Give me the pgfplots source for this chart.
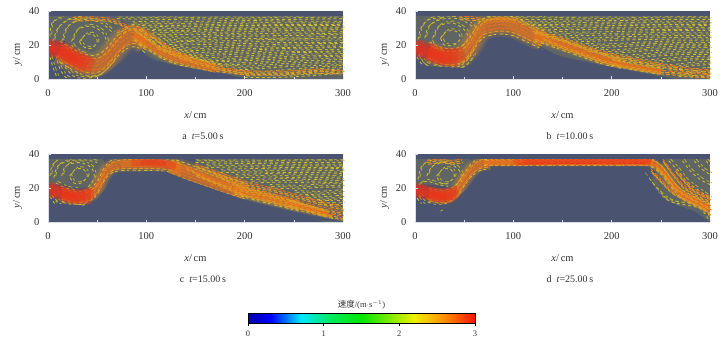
\documentclass[border=0pt]{standalone}
\usepackage{pgfplots}
\pgfplotsset{compat=1.18}
\usepackage{fontspec}
\setmainfont{Liberation Serif}
\newfontfamily\cjk{Noto Sans CJK SC}
\definecolor{bgc}{RGB}{74,84,112}
\definecolor{yf}{RGB}{208,190,44}
\definecolor{yg}{RGB}{186,176,52}
\definecolor{og}{RGB}{226,150,34}
\definecolor{oh}{RGB}{230,112,30}
\definecolor{rd}{RGB}{236,48,26}
\definecolor{txt}{RGB}{50,50,50}
\pgfplotsset{
  fa/.style={color=yf,line width=0.85pt,dash pattern=on 3pt off 2.7pt,no marks},
  fb/.style={color=yg,line width=0.85pt,dash pattern=on 4pt off 3.3pt on 2.5pt off 2.2pt,no marks},
  fc/.style={color=yf,line width=0.85pt,dash pattern=on 2.5pt off 3.6pt on 3.5pt off 1.9pt,no marks},
  oa/.style={color=og,line width=1pt,dash pattern=on 4pt off 1.8pt,no marks},
  ob/.style={color=oh,line width=1pt,dash pattern=on 3pt off 2.1pt on 5pt off 1.3pt,no marks},
  core/.style={color=rd,line width=#1,opacity=0.4,smooth,no marks},
  bed/.style={fill=bgc,draw=none,no marks,forget plot},
  tint/.style={fill=yf,draw=none,opacity=0.16,no marks,forget plot,smooth},
  panel/.style={
    scale only axis,width=295pt,height=68pt,anchor=south west,
    xmin=0,xmax=300,ymin=0,ymax=40,
    xtick={0,100,200,300},minor xtick={50,150,250},ytick={0,20,40},
    axis x line=bottom,axis y line=left,
    axis line style={-,color=white!80!bgc,line width=0.7pt},
    tick style={color=white!80!bgc,line width=0.5pt},
    major tick length=2.5pt,minor tick length=2pt,
    tick align=inside,axis on top,
    axis background/.style={fill=bgc},
    clip mode=individual,
    /pgf/number format/assume math mode=true,
    ticklabel style={font=\fontsize{10.5}{12}\selectfont,text=txt},
    xticklabel style={yshift=-7pt},
    yticklabel style={xshift=-5pt},
    xlabel={\textit{x}/\,cm},ylabel={\textit{y}/\,cm},
    label style={font=\fontsize{10.5}{12}\selectfont,text=txt},
    xlabel style={yshift=-8pt},
    ylabel style={xshift=-9pt},
  }
}
\newcommand\F[1]{\addplot[fa] coordinates {#1};\addplot[fb,yshift=1.7pt,xshift=1.5pt] coordinates {#1};\addplot[fc,yshift=3.4pt,xshift=.7pt] coordinates {#1};}
\newcommand\Y[1]{\addplot[fa,smooth] coordinates {#1};\addplot[fb,smooth,yshift=1.8pt,xshift=1.8pt] coordinates {#1};}
\newcommand\Ob[1]{\addplot[oa] coordinates {#1};\addplot[ob,yshift=1.8pt] coordinates {#1};\addplot[oa,yshift=-1.8pt,xshift=1pt] coordinates {#1};}
\newcommand\Jet[2]{%
\addplot[color=og,line width=#1*2.7pt,opacity=0.14,smooth,no marks] coordinates {#2};%
\addplot[color=og,line width=#1*2.2pt,opacity=0.2,smooth,no marks] coordinates {#2};%
\addplot[color=oh,line width=#1*1.7pt,opacity=0.3,smooth,no marks] coordinates {#2};%
\addplot[color=oh,line width=#1*1.2pt,opacity=0.4,smooth,no marks] coordinates {#2};%
\addplot[fa,smooth,yshift=#1*1.05pt] coordinates {#2};%
\addplot[fc,smooth,yshift=-#1*1.05pt] coordinates {#2};%
\addplot[oa,smooth,yshift=#1*.72pt,xshift=1pt] coordinates {#2};%
\addplot[oa,smooth,yshift=-#1*.72pt] coordinates {#2};%
\addplot[ob,smooth,yshift=#1*.38pt] coordinates {#2};%
\addplot[ob,smooth,yshift=-#1*.38pt,xshift=1.5pt] coordinates {#2};%
\addplot[ob,smooth] coordinates {#2};}
\newcommand\Cap[1]{\node[font=\fontsize{10}{12}\selectfont,text=txt] at (axis description cs:0.525,-0.84) {#1};}
\newcommand\Top{\addplot[bed] coordinates {(0,37.2)(300,37.2)(300,40)(0,40)} --cycle;}
\begin{document}
\begin{tikzpicture}
\path[use as bounding box] (0,0) rectangle (722pt,340pt);
% ---- a
\begin{axis}[panel,at={(48pt,261pt)}]
\Cap{a\enspace\textit{t}=5.00\,s}
\addplot[tint] coordinates {(70,37)(300,37)(300,0)(210,0)(180,3)(130,8)(100,14)(85,30)} --cycle;
\addplot[tint] coordinates {(0,37)(70,37)(70,24)(45,12)(20,22)(0,22)} --cycle;
\F{(70,35.5)(120,35)(180,35.5)(240,35)(300,35.5)}
\F{(85,32)(130,31.5)(190,32.5)(250,32)(300,32)}
\F{(95,29.5)(130,28.5)(180,29.5)(240,29.5)(300,29.5)}
\F{(105,26.5)(150,26)(200,27)(250,26.5)(300,27)}
\F{(105,24.5)(140,22.5)(190,24)(250,23.5)(300,24.5)}
\F{(100,22.5)(130,20)(180,20.5)(240,21.5)(300,21.5)}
\F{(105,20.5)(140,16.5)(180,17.5)(240,18.5)(300,19)}
\F{(115,17.5)(150,13.5)(190,14.5)(240,16)(300,16.5)}
\F{(125,14.5)(160,10.5)(200,11.5)(250,13.5)(300,14)}
\F{(135,11.5)(170,8)(210,9)(250,10.5)(300,11.5)}
\F{(160,7)(200,5.5)(250,7.5)(300,8.5)}
\F{(190,3)(220,2.5)(260,4.5)(300,6)}
\F{(200,0.8)(240,1)(270,2)(300,3.5)}
\Ob{(170,5.5)(200,3.5)(240,3.5)(270,4.5)(300,4)}
% vortex
\Y{(32,22)(38,26)(46,26)(50,22)(44,18)(36,19)(32,22)}
\Y{(24,22)(30,29)(44,31)(56,27)(60,21)}
\Y{(14,22)(20,31)(36,35)(54,33)(66,27)}
\Y{(5,22)(10,30)(22,35)(40,36)}
\Y{(2,25)(4,33)(14,36)}
\Y{(24,20)(30,16)(40,14)}
% lower
\Y{(8,14)(12,6)(18,1)(22,0)}
\Y{(2,13)(5,7)(9,1)}
\Y{(14,10)(20,5)(28,1)(40,0.5)(52,2)(60,6)(68,11)}
% upper band
\Ob{(25,35)(45,35.5)(60,35)(72,33)(82,30)}
% jet
\Jet{10}{(12,16)(30,10)(40,8)(50,8)(60,12)(70,19)(80,24)(90,25)(100,21)}
\Jet{5}{(88,26)(100,21)(115,15.5)(130,12)(150,9)(170,6)}
\Ob{(70,27)(82,30)(95,29)(108,24)(125,17)(145,12)}
\Ob{(110,19)(130,14)(150,10)(180,5.5)(205,3)}
\addplot[core=18pt] coordinates {(0,18.5)(12,17)(24,13)(40,8)};
\addplot[core=14pt] coordinates {(0,18.5)(12,17)(24,13)(46,8)};
\addplot[core=10pt] coordinates {(0,19)(12,17)(24,13)(36,10)};
\addplot[core=6pt] coordinates {(0,19)(12,16.5)(24,12.5)(30,11)};
\addplot[bed] coordinates {(48,0)(60,3)(70,8)(80,12)(90,14)(100,12)(107,11)(130,8)(150,6)(180,2.5)(200,0.5)(210,0)} --cycle;
\Top
\end{axis}
% ---- b
\begin{axis}[panel,at={(415pt,261pt)}]
\Cap{b\enspace\textit{t}=10.00\,s}
\addplot[tint] coordinates {(72,37)(300,37)(300,0)(265,0)(200,7)(150,13)(110,25)} --cycle;
\addplot[tint] coordinates {(0,37)(70,37)(65,22)(45,16)(20,20)(0,20)} --cycle;
\F{(72,35)(130,35)(190,35.5)(250,35)(300,35)}
\F{(108,32)(150,32)(200,32.5)(250,32)(300,32)}
\F{(118,29.5)(160,29)(210,29.5)(260,29)(300,29.5)}
\F{(128,26.5)(165,25.5)(210,26)(260,26.5)(300,26.5)}
\F{(140,23)(175,22)(215,23)(260,23.5)(300,23.5)}
\F{(155,19.5)(190,18.5)(225,19.5)(265,20.5)(300,20.5)}
\F{(170,16.5)(200,15)(235,16.5)(270,17.5)(300,17.5)}
\F{(190,13)(215,12)(245,13.5)(275,14.5)(300,14.5)}
\F{(210,10)(240,9.5)(270,11)(300,11.5)}
\F{(235,7)(262,6.5)(285,8)(300,8.5)}
\F{(250,4)(275,3.5)(300,5)}
\F{(268,1.5)(285,1)(300,2)}
% vortex
\Y{(26,24)(32,28)(42,28)(46,24)(40,20)(30,20)(26,24)}
\Y{(18,24)(24,31)(38,33)(50,29)(54,24)(46,18)}
\Y{(10,24)(14,31)(26,35)(44,35.5)(58,31)(62,27)}
\Y{(3,23)(6,30)(14,35)(28,36)}
\Y{(16,22)(20,18)(30,16)}
% lower
\Y{(2,13)(8,8)(18,5)(32,5)(44,5.5)(54,9)(60,14)}
\Y{(8,6)(16,2.5)(28,1.5)(36,2.5)}
\Y{(4,15)(10,9)(22,6.5)(36,7)(50,10)(58,16)}
% jet
\Ob{(45,36)(60,35.5)(72,34)(85,35)(105,34)}
\Jet{9}{(14,16)(30,12.5)(45,13)(55,18)(62,25)(70,30)(85,32)(100,31)(115,27)(130,23)}
\Jet{5}{(122,25.5)(150,20)(170,16)(190,12)(210,9)}
\Jet{3}{(200,10)(215,8)(235,6)(250,4.5)}
\Ob{(130,24)(150,19)(170,15)(190,11)(210,8)(230,6)(250,4)(270,3)(300,1.5)}
\Ob{(120,28)(150,23)(180,17)(205,13)(240,9)(270,6)(300,4)}
\addplot[core=18pt] coordinates {(0,18.5)(14,16)(26,13.5)(44,12.5)};
\addplot[core=14pt] coordinates {(0,18.5)(14,16)(26,13)(50,15)};
\addplot[core=10pt] coordinates {(0,18.5)(14,16)(26,13)(38,13)};
\addplot[core=6pt] coordinates {(0,18.5)(14,15.5)(28,13)};
\addplot[bed] coordinates {(0,8)(3,7)(8,4)(18,1.5)(30,1)(45,2.5)(50,3)(60,7)(70,14)(80,21)(87,23.5)(100,21)(150,13)(200,7)(250,1.5)(265,0)} --cycle;
\Top
\end{axis}
% ---- c
\begin{axis}[panel,at={(48pt,118pt)}]
\Cap{c\enspace\textit{t}=15.00\,s}
\addplot[tint] coordinates {(150,37)(300,37)(300,0)(240,7)(200,13)(150,30)} --cycle;
\addplot[tint] coordinates {(0,37)(55,37)(50,25)(35,20)(15,22)(0,22)} --cycle;
\F{(150,35)(195,35.5)(250,35)(300,35)}
\F{(160,32)(200,32.5)(250,32)(300,32)}
\F{(175,29)(210,29.5)(255,29)(300,29.5)}
\F{(190,26)(225,26.5)(265,26)(300,26.5)}
\F{(205,23)(240,23.5)(270,23)(300,23.5)}
\F{(225,20)(255,19.5)(280,20.5)(300,20.5)}
\F{(250,16.5)(275,16)(300,17)}
\F{(262,13.5)(285,13)(300,14)}
\F{(275,10.5)(300,10.5)}
% vortex
\Y{(22,27)(28,31)(36,31)(40,27)(34,23)(26,23)(22,27)}
\Y{(14,27)(18,33)(32,35)(44,32)(47,26)(40,20)}
\Y{(6,26)(10,33)(22,36)(38,36.5)(50,35)}
\Y{(2,27)(4,33)(10,36.5)}
\Y{(8,23)(18,20)(30,19)}
% lower
\Y{(2,15)(8,10)(16,7)(24,6.5)(32,8)(40,12)}
\Y{(4,16)(12,11)(24,9)(36,12)(44,16)}
% jet
\Jet{6}{(14,16)(32,14)(42,16)(50,20)(56,27)(63,32)(75,34)(100,34)(120,33.5)(135,31)}
\Jet{9}{(125,32)(145,28)(165,24)(180,21)(200,17.5)}
\Jet{5}{(190,19.5)(210,16)(235,12.5)(255,9.5)}
\Jet{3}{(245,11)(265,8)(285,4.5)}
\Ob{(140,32)(165,25)(190,20)(210,17)(230,14)(250,10)(280,5)(300,2)}
\Ob{(150,28)(175,22)(200,16)(230,12)(260,7)(290,3)}
\Ob{(170,28)(195,21)(220,17)(245,13)(270,9)(300,5)}
\Ob{(150,33)(180,27)(205,22)(235,18)(265,13)(300,8)}
\addplot[color=oh,line width=7pt,opacity=0.45,smooth] coordinates {(75,34.5)(95,34.5)(115,34.5)(130,33)(145,30)};
\addplot[core=8pt] coordinates {(85,35)(100,35)(115,34.5)(130,33)};
\addplot[core=5pt] coordinates {(95,35)(105,35)(120,34.5)};
\addplot[core=15pt] coordinates {(0,19.5)(14,17)(26,15)(44,15)};
\addplot[core=12pt] coordinates {(0,19.5)(14,17)(26,15)(46,17)};
\addplot[core=9pt] coordinates {(0,19.5)(14,17)(26,15)(38,15)};
\addplot[core=5pt] coordinates {(0,20)(14,17)(30,15)};
\addplot[bed] coordinates {(0,11)(3,11)(10,7)(20,4.5)(35,6)(45,9)(55,17)(65,23)(80,27.5)(100,30)(120,29.5)(140,25)(150,23)(200,13)(250,6)(300,0)} --cycle;
\Top
\end{axis}
% ---- d
\begin{axis}[panel,at={(415pt,118pt)}]
\Cap{d\enspace\textit{t}=25.00\,s}
\addplot[tint] coordinates {(255,37)(300,37)(300,0)(285,6)(255,13)(240,25)} --cycle;
\addplot[tint] coordinates {(0,37)(55,37)(48,25)(35,21)(15,22)(0,22)} --cycle;
% vortex
\Y{(22,27)(28,31)(36,31)(40,27)(34,23)(26,23)(22,27)}
\Y{(12,27)(18,33)(32,35)(44,31)(47,26)(40,21)}
\Y{(3,25)(6,32)(14,36)(28,36.5)}
\Y{(4,22)(12,24)(24,22)(34,21)}
% lower
\Y{(2,14)(8,10)(16,7)(24,6)(30,8)}
\Y{(4,16)(12,12)(24,10)(36,12)(44,16)}
% right side
\Y{(258,36)(268,30)(276,24)(290,18)(300,14)}
\Y{(272,36)(280,30)(290,25)(300,22)}
\Y{(284,36)(292,31)(300,28)}
\Y{(296,36)(300,33)}
\Y{(232,28)(240,22)(250,16)(260,12)(275,10)(290,8)(298,2)}
\Y{(236,25)(244,19)(254,13)(268,10.5)}
\Ob{(265,30)(275,23)(285,18)(300,14)}
\Ob{(12,35)(24,36)(38,35)(48,36)}
% jet
\Jet{6}{(14,16)(30,15)(42,18)(50,25)(58,31)(66,34)(76,35)}
\Jet{3}{(70,35)(100,35)(150,35)(200,35)(240,35)}
\addplot[color=oh,line width=7pt,opacity=0.65,smooth] coordinates {(75,35.2)(100,35.2)(150,35.2)(200,35.2)(240,35)};
\addplot[core=6pt] coordinates {(100,35.6)(130,35.5)(180,35.8)(220,35.8)(245,35)};
\addplot[core=4pt] coordinates {(110,35.6)(130,35.5)(180,35.8)(220,35.8)(240,35.5)};
\addplot[oa,color=rd,line width=1pt] coordinates {(105,34)(150,34.5)(200,34.2)(235,34.5)};
\Jet{4}{(240,35)(250,31)(258,25)(268,18)(282,13)(300,8)}
\Ob{(245,33)(255,27)(264,20)(278,15)(290,11)(300,8)}
\Ob{(240,30)(250,24)(260,18)(275,13)(290,9)(300,5)}
\Ob{(252,36)(262,28)(272,21)(285,16)(300,12)}
\addplot[core=15pt] coordinates {(0,19)(14,17)(26,15.5)(42,15.5)};
\addplot[core=12pt] coordinates {(0,19)(14,17)(26,15.5)(44,18)};
\addplot[core=9pt] coordinates {(0,19)(14,17)(26,15.5)(38,15.5)};
\addplot[core=5pt] coordinates {(0,19)(14,16.5)(32,15)};
\addplot[bed] coordinates {(0,11)(3,11)(10,7)(20,5)(30,8)(40,12)(50,18)(60,24)(70,28)(85,31)(100,32.5)(230,32.5)(235,28)(245,19)(255,13)(270,9)(285,6)(300,0)} --cycle;
\Top
\end{axis}
% ---- colour bar
\begin{axis}[
  scale only axis,width=227pt,height=9.5pt,anchor=south west,at={(248pt,17pt)},
  xmin=0,xmax=3,ymin=0,ymax=1,view={0}{90},
  xtick={0,1,2,3},ytick=\empty,
  axis x line*=bottom,axis y line=none,
  axis line style={-},
  tick style={color=black,line width=0.4pt},major tick length=3pt,
  /pgf/number format/assume math mode=true,
  ticklabel style={font=\fontsize{8.5}{10}\selectfont,text=txt},
  xticklabel style={yshift=-1pt},
  tick align=outside,
  clip=false,
  colormap={speed}{rgb255(0)=(0,0,170) rgb255(3)=(0,0,255) rgb255(7)=(0,230,255) rgb255(11)=(0,235,90) rgb255(15)=(0,230,0) rgb255(22)=(240,240,0) rgb255(26)=(255,140,0) rgb255(30)=(245,20,0)},
]
\addplot3[surf,shader=interp,mesh/rows=2,point meta=x] coordinates {(0,0,0) (3,0,0)

(0,1,0) (3,1,0)};
\draw[black,line width=.6pt] (axis cs:0,0) rectangle (axis cs:3,1);
\node[font=\fontsize{8.5}{10}\selectfont,text=txt] at (axis description cs:0.5,1.95) {{\cjk 速度}/(m$\cdot$s$^{-1}$)};
\end{axis}
\end{tikzpicture}
\end{document}
